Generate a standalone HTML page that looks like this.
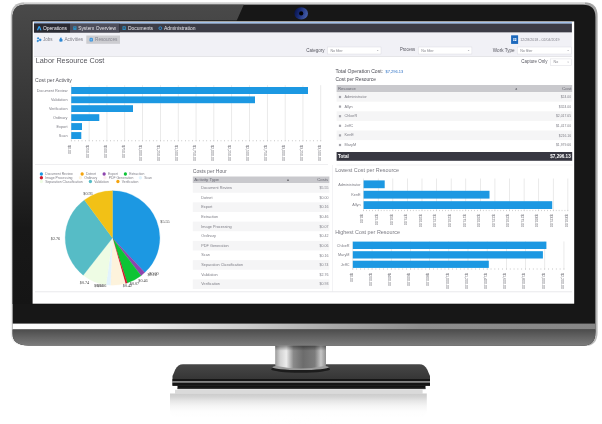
<!DOCTYPE html>
<html><head><meta charset="utf-8">
<style>
html,body{margin:0;padding:0;background:#fff;}
body{width:602px;height:424px;overflow:hidden;font-family:"Liberation Sans",sans-serif;}
svg{display:block;}
text{font-family:"Liberation Sans",sans-serif;}
.ser{font-family:"Liberation Serif",serif;}
</style></head><body>
<svg width="602" height="424" viewBox="0 0 602 424" style="will-change:transform">
<defs>
<linearGradient id="gSilverTop" x1="0" y1="1" x2="1" y2="0"><stop offset="0" stop-color="#f0f0f0"/><stop offset="0.3" stop-color="#d2d2d2"/><stop offset="0.5" stop-color="#bcbcbc"/><stop offset="1" stop-color="#a2a2a2"/></linearGradient>
<linearGradient id="gTopEdge" x1="0" y1="0" x2="0" y2="1"><stop offset="0" stop-color="#ececec"/><stop offset="0.5" stop-color="#cfcfcf"/><stop offset="1" stop-color="#9c9c9c"/></linearGradient>
<linearGradient id="gChin" x1="0" y1="0" x2="0" y2="1"><stop offset="0" stop-color="#4c4c4c"/><stop offset="1" stop-color="#7e7e7e"/></linearGradient>
<linearGradient id="gStrip" x1="0" y1="0" x2="1" y2="0"><stop offset="0" stop-color="#ffffff"/><stop offset="0.2" stop-color="#f2f2f2"/><stop offset="0.4" stop-color="#cccccc"/><stop offset="0.55" stop-color="#a8a8a8"/><stop offset="0.7" stop-color="#8e8e8e"/><stop offset="1" stop-color="#868686"/></linearGradient>
<linearGradient id="gLeftBezel" x1="0" y1="0" x2="0" y2="1"><stop offset="0" stop-color="#4a4a4a"/><stop offset="0.45" stop-color="#303030"/><stop offset="0.75" stop-color="#181818"/><stop offset="1" stop-color="#151515"/></linearGradient>
<linearGradient id="gNeck" x1="0" y1="0" x2="1" y2="0"><stop offset="0" stop-color="#9a9a9a"/><stop offset="0.1" stop-color="#d2d2d2"/><stop offset="0.22" stop-color="#ececec"/><stop offset="0.36" stop-color="#8a8a8a"/><stop offset="0.55" stop-color="#6c6c6c"/><stop offset="0.78" stop-color="#7c7c7c"/><stop offset="0.9" stop-color="#c6c6c6"/><stop offset="1" stop-color="#8e8e8e"/></linearGradient>
<linearGradient id="gBase" x1="0" y1="0" x2="0" y2="1"><stop offset="0" stop-color="#474747"/><stop offset="1" stop-color="#2e2e2e"/></linearGradient>
<linearGradient id="gNeckSh" x1="0" y1="0" x2="0" y2="1"><stop offset="0" stop-color="#000" stop-opacity="0.4"/><stop offset="1" stop-color="#000" stop-opacity="0"/></linearGradient>
<radialGradient id="gReflSpot" cx="0.5" cy="0.5" r="0.5"><stop offset="0" stop-color="#ffffff" stop-opacity="0.9"/><stop offset="1" stop-color="#ffffff" stop-opacity="0"/></radialGradient>
<linearGradient id="gCam" x1="0" y1="0" x2="1" y2="0.3"><stop offset="0" stop-color="#050e40"/><stop offset="0.45" stop-color="#172a74"/><stop offset="1" stop-color="#4159a4"/></linearGradient>
<linearGradient id="gRefl" x1="0" y1="0" x2="0" y2="1"><stop offset="0" stop-color="#cbcbcb"/><stop offset="0.14" stop-color="#d4d4d4"/><stop offset="0.3" stop-color="#e6e6e6"/><stop offset="0.5" stop-color="#f4f4f4"/><stop offset="0.72" stop-color="#fdfdfd"/><stop offset="1" stop-color="#ffffff"/></linearGradient>
<clipPath id="clipFrame"><path d="M25.5,4.7 H583 Q595.4,4.7 595.4,17 V332 Q595.4,345.4 584,345.4 H28.5 Q12.6,345.4 12.6,334 V17.5 Q12.6,4.7 25.5,4.7 Z"/></clipPath>
<filter id="fBlur" x="-2%" y="-2%" width="104%" height="104%"><feGaussianBlur stdDeviation="0.32"/></filter>
</defs>

<!-- ===== MONITOR FRAME ===== -->
<g id="frame">
<path d="M25,2.3 H584 Q597.6,2.3 597.6,16 V332 Q597.6,346 585,346 H28 Q10.8,346 10.8,334 V17 Q10.8,2.3 25,2.3 Z" fill="url(#gSilverTop)"/>
<rect x="24" y="2.3" width="561" height="2.6" fill="url(#gTopEdge)"/>
<g clip-path="url(#clipFrame)">
<rect x="10" y="2" width="590" height="345" fill="#171717"/>
<polygon points="10,2 245,2 236.5,21 32,21 32,304 10,304" fill="url(#gLeftBezel)"/>
<rect x="10" y="323.6" width="590" height="6" fill="url(#gStrip)"/>
<rect x="10" y="329.4" width="590" height="17" fill="url(#gChin)"/>
</g>
<ellipse cx="301.2" cy="13.4" rx="6.8" ry="6.1" fill="url(#gCam)"/>
<circle cx="301.2" cy="13.4" r="2.1" fill="#000"/>
</g>

<!-- ===== STAND ===== -->
<g id="stand">
<rect x="175" y="389.8" width="247.6" height="3.8" fill="#dadada"/>
<path d="M170,393.4 H426.8 V410 Q426.8,418 418,418 H178 Q170,418 170,410 Z" fill="url(#gRefl)"/>
<ellipse cx="300" cy="424" rx="40" ry="12" fill="url(#gReflSpot)"/>
<path d="M183,364.2 H419.5 Q424.5,364.2 427.2,369.5 L430,376 V385.7 H172.5 V376 L175.3,369.5 Q178,364.2 183,364.2 Z" fill="url(#gBase)"/>
<rect x="172.5" y="379" width="257.5" height="2.3" fill="#151515"/>
<rect x="172.5" y="381.2" width="257.5" height="1.6" fill="#9c9c9c"/>
<rect x="172.5" y="382.8" width="257.5" height="2.9" fill="#141414"/>
<rect x="177.5" y="385.5" width="248" height="3.6" fill="#121212"/>
<rect x="177.5" y="387.9" width="248" height="0.6" fill="#5a5a5a"/>
<ellipse cx="300.6" cy="369.2" rx="29.5" ry="3.6" fill="#1c1c1c"/>
<ellipse cx="300.6" cy="367.3" rx="28.2" ry="2.8" fill="#9c9c9c"/>
<path d="M275.2,345.8 H326 V365.8 Q300.6,371.2 275.2,365.8 Z" fill="url(#gNeck)"/>
<rect x="275.2" y="345.8" width="50.8" height="5" fill="url(#gNeckSh)"/>
</g>

<!-- ===== SCREEN ===== -->
<g id="screen">
<rect x="31.6" y="20.4" width="543.6" height="284.2" fill="#131313"/>
<rect x="32.6" y="21.4" width="541.6" height="282.3" fill="#ffffff"/>
<rect x="33.9" y="22.1" width="538" height="1.6" fill="#96b9e8"/>
<rect x="33.9" y="23.6" width="538" height="9" fill="#3c3c46"/>
<rect x="33.9" y="32.6" width="538" height="23.6" fill="#f1f1f6"/>
<rect x="33.9" y="56" width="538" height="0.6" fill="#d6d6da"/>
</g>

<!-- nav tabs -->
<g id="blurwrap" filter="url(#fBlur)">
<g id="nav">
<rect x="34" y="23.6" width="36" height="9" fill="#2a2a33"/>
<rect x="70" y="23.6" width="49" height="9" fill="#4e4e5a"/>
<rect x="119" y="23.6" width="0.6" height="9" fill="#2e2e37"/>
<!-- icons -->
<path d="M36.9,30.2 L38.3,26.4 Q39.2,25.6 40.1,26.4 L41.5,30.2 L40.1,30.2 L39.2,27.8 L38.3,30.2 Z" fill="#2f9fee"/>
<rect x="73.2" y="26.2" width="3.3" height="3.9" rx="0.6" fill="#2b8cc0"/>
<rect x="74" y="26.9" width="1.7" height="0.6" fill="#4e4e5a"/>
<rect x="122.5" y="26.2" width="3.3" height="3.9" rx="0.6" fill="#2b8cc0"/>
<rect x="123.3" y="27.4" width="1.7" height="1.2" fill="#3c3c46"/>
<circle cx="160.3" cy="28.2" r="1.4" fill="none" stroke="#2f9be8" stroke-width="0.8"/>
<text x="42.9" y="29.9" font-size="5.4" fill="#f0f0f4" textLength="24.2" lengthAdjust="spacingAndGlyphs">Operations</text>
<text x="78.2" y="29.9" font-size="5.4" fill="#e2e2e8" textLength="37.8" lengthAdjust="spacingAndGlyphs">System Overview</text>
<text x="128" y="29.9" font-size="5.4" fill="#e6e6ec" textLength="25" lengthAdjust="spacingAndGlyphs">Documents</text>
<text x="164" y="29.9" font-size="5.4" fill="#e6e6ec" textLength="31.6" lengthAdjust="spacingAndGlyphs">Administration</text>
</g>

<!-- toolbar -->
<g id="toolbar">
<rect x="86.3" y="35.5" width="33.7" height="8.3" fill="#cdcdd1"/>
<!-- sub icons -->
<g fill="#2a86d4" stroke="#2a86d4" stroke-width="0.7"><circle cx="38.1" cy="38.3" r="0.7"/><circle cx="40.4" cy="39.9" r="0.8"/><circle cx="37.7" cy="41" r="0.7"/><path d="M38.1,38.3 L40.4,39.9 L37.7,41" fill="none"/></g>
<path d="M59.2,40 L60.5,37.5 L61.8,37.7 L61.6,39 L62.6,39.2 L62.4,41.5 L59.7,41.7 Z" fill="#2a86d4"/>
<rect x="89.5" y="37.7" width="3.4" height="3.9" rx="1.2" fill="#3a94dc"/>
<rect x="90.5" y="38.8" width="1.4" height="1.6" rx="0.5" fill="#7fbdf0"/>
<text x="43" y="41.1" font-size="5.2" fill="#80808a" textLength="9.6" lengthAdjust="spacingAndGlyphs">Jobs</text>
<text x="64.4" y="41.1" font-size="5.2" fill="#80808a" textLength="18.8" lengthAdjust="spacingAndGlyphs">Activities</text>
<text x="95" y="41.1" font-size="5.2" fill="#868690" textLength="22.4" lengthAdjust="spacingAndGlyphs">Resources</text>

<!-- date -->
<rect x="511.1" y="35.3" width="7" height="8.6" fill="#1a68bc"/>
<rect x="513.2" y="38.2" width="3.2" height="2.8" fill="#e8f0fa"/>
<rect x="513.2" y="39.3" width="3.2" height="0.4" fill="#1f6fc6"/>
<rect x="514.6" y="38.2" width="0.4" height="2.8" fill="#1f6fc6"/>
<text x="520.2" y="40.8" font-size="3.6" fill="#80808a" textLength="39.4" lengthAdjust="spacingAndGlyphs">12/28/2018 - 02/04/2019</text>

<!-- filters -->
<text x="306.2" y="52.2" font-size="5.5" fill="#55555e" textLength="18.2" lengthAdjust="spacingAndGlyphs">Category</text>
<rect x="327.4" y="47" width="53.6" height="7" fill="#ffffff" stroke="#dcdce2" stroke-width="0.5"/>
<text x="330.4" y="51.6" font-size="3.6" fill="#84848c">No filter</text>
<path d="M376.8,50 l1.8,0 l-0.9,1.1 z" fill="#a8a8b0"/>

<text x="399.9" y="51.2" font-size="5.5" fill="#55555e" textLength="15.2" lengthAdjust="spacingAndGlyphs">Process</text>
<rect x="418.3" y="47" width="53.6" height="7" fill="#ffffff" stroke="#dcdce2" stroke-width="0.5"/>
<text x="421.3" y="51.6" font-size="3.6" fill="#84848c">No filter</text>
<path d="M467.7,50 l1.8,0 l-0.9,1.1 z" fill="#a8a8b0"/>

<text x="492.8" y="52.2" font-size="5.5" fill="#55555e" textLength="21.9" lengthAdjust="spacingAndGlyphs">Work Type</text>
<rect x="517.2" y="47" width="54.1" height="7" fill="#ffffff" stroke="#dcdce2" stroke-width="0.5"/>
<text x="520.2" y="51.6" font-size="3.6" fill="#84848c">No filter</text>
<path d="M567.2,50 l1.8,0 l-0.9,1.1 z" fill="#a8a8b0"/>

<text x="521.3" y="63.4" font-size="5.5" fill="#55555e" textLength="26.1" lengthAdjust="spacingAndGlyphs">Capture Only</text>
<rect x="550.4" y="58.9" width="20.9" height="6.5" fill="#ffffff" stroke="#dcdce2" stroke-width="0.5"/>
<text x="553.6" y="63.2" font-size="3.6" fill="#84848c">No</text>
<path d="M567.2,61.7 l1.8,0 l-0.9,1.1 z" fill="#a8a8b0"/>
</g>

<!-- title -->
<text x="35.8" y="63.3" font-size="7.8" fill="#55555c" textLength="68.6" lengthAdjust="spacingAndGlyphs">Labor Resource Cost</text>

<!--CONTENT_START-->
<g id="content">
<text x="35" y="82" font-size="5.3" fill="#55555c" textLength="36.8" lengthAdjust="spacingAndGlyphs">Cost per Activity</text>
<rect x="70.95" y="85.20" width="0.7" height="56.10" fill="#e1e1e1"/>
<rect x="88.77" y="85.20" width="0.7" height="56.10" fill="#e1e1e1"/>
<rect x="106.59" y="85.20" width="0.7" height="56.10" fill="#e1e1e1"/>
<rect x="124.41" y="85.20" width="0.7" height="56.10" fill="#e1e1e1"/>
<rect x="142.23" y="85.20" width="0.7" height="56.10" fill="#e1e1e1"/>
<rect x="160.05" y="85.20" width="0.7" height="56.10" fill="#e1e1e1"/>
<rect x="177.87" y="85.20" width="0.7" height="56.10" fill="#e1e1e1"/>
<rect x="195.69" y="85.20" width="0.7" height="56.10" fill="#e1e1e1"/>
<rect x="213.51" y="85.20" width="0.7" height="56.10" fill="#e1e1e1"/>
<rect x="231.33" y="85.20" width="0.7" height="56.10" fill="#e1e1e1"/>
<rect x="249.15" y="85.20" width="0.7" height="56.10" fill="#e1e1e1"/>
<rect x="266.97" y="85.20" width="0.7" height="56.10" fill="#e1e1e1"/>
<rect x="284.79" y="85.20" width="0.7" height="56.10" fill="#e1e1e1"/>
<rect x="302.61" y="85.20" width="0.7" height="56.10" fill="#e1e1e1"/>
<rect x="320.43" y="85.20" width="0.7" height="56.10" fill="#e1e1e1"/>
<rect x="70.95" y="140.10" width="0.7" height="1.2" fill="#bdbdbd"/>
<rect x="74.51" y="140.10" width="0.7" height="1.2" fill="#bdbdbd"/>
<rect x="78.08" y="140.10" width="0.7" height="1.2" fill="#bdbdbd"/>
<rect x="81.64" y="140.10" width="0.7" height="1.2" fill="#bdbdbd"/>
<rect x="85.21" y="140.10" width="0.7" height="1.2" fill="#bdbdbd"/>
<rect x="88.77" y="140.10" width="0.7" height="1.2" fill="#bdbdbd"/>
<rect x="92.33" y="140.10" width="0.7" height="1.2" fill="#bdbdbd"/>
<rect x="95.90" y="140.10" width="0.7" height="1.2" fill="#bdbdbd"/>
<rect x="99.46" y="140.10" width="0.7" height="1.2" fill="#bdbdbd"/>
<rect x="103.03" y="140.10" width="0.7" height="1.2" fill="#bdbdbd"/>
<rect x="106.59" y="140.10" width="0.7" height="1.2" fill="#bdbdbd"/>
<rect x="110.15" y="140.10" width="0.7" height="1.2" fill="#bdbdbd"/>
<rect x="113.72" y="140.10" width="0.7" height="1.2" fill="#bdbdbd"/>
<rect x="117.28" y="140.10" width="0.7" height="1.2" fill="#bdbdbd"/>
<rect x="120.85" y="140.10" width="0.7" height="1.2" fill="#bdbdbd"/>
<rect x="124.41" y="140.10" width="0.7" height="1.2" fill="#bdbdbd"/>
<rect x="127.97" y="140.10" width="0.7" height="1.2" fill="#bdbdbd"/>
<rect x="131.54" y="140.10" width="0.7" height="1.2" fill="#bdbdbd"/>
<rect x="135.10" y="140.10" width="0.7" height="1.2" fill="#bdbdbd"/>
<rect x="138.67" y="140.10" width="0.7" height="1.2" fill="#bdbdbd"/>
<rect x="142.23" y="140.10" width="0.7" height="1.2" fill="#bdbdbd"/>
<rect x="145.79" y="140.10" width="0.7" height="1.2" fill="#bdbdbd"/>
<rect x="149.36" y="140.10" width="0.7" height="1.2" fill="#bdbdbd"/>
<rect x="152.92" y="140.10" width="0.7" height="1.2" fill="#bdbdbd"/>
<rect x="156.49" y="140.10" width="0.7" height="1.2" fill="#bdbdbd"/>
<rect x="160.05" y="140.10" width="0.7" height="1.2" fill="#bdbdbd"/>
<rect x="163.61" y="140.10" width="0.7" height="1.2" fill="#bdbdbd"/>
<rect x="167.18" y="140.10" width="0.7" height="1.2" fill="#bdbdbd"/>
<rect x="170.74" y="140.10" width="0.7" height="1.2" fill="#bdbdbd"/>
<rect x="174.31" y="140.10" width="0.7" height="1.2" fill="#bdbdbd"/>
<rect x="177.87" y="140.10" width="0.7" height="1.2" fill="#bdbdbd"/>
<rect x="181.43" y="140.10" width="0.7" height="1.2" fill="#bdbdbd"/>
<rect x="185.00" y="140.10" width="0.7" height="1.2" fill="#bdbdbd"/>
<rect x="188.56" y="140.10" width="0.7" height="1.2" fill="#bdbdbd"/>
<rect x="192.13" y="140.10" width="0.7" height="1.2" fill="#bdbdbd"/>
<rect x="195.69" y="140.10" width="0.7" height="1.2" fill="#bdbdbd"/>
<rect x="199.25" y="140.10" width="0.7" height="1.2" fill="#bdbdbd"/>
<rect x="202.82" y="140.10" width="0.7" height="1.2" fill="#bdbdbd"/>
<rect x="206.38" y="140.10" width="0.7" height="1.2" fill="#bdbdbd"/>
<rect x="209.95" y="140.10" width="0.7" height="1.2" fill="#bdbdbd"/>
<rect x="213.51" y="140.10" width="0.7" height="1.2" fill="#bdbdbd"/>
<rect x="217.07" y="140.10" width="0.7" height="1.2" fill="#bdbdbd"/>
<rect x="220.64" y="140.10" width="0.7" height="1.2" fill="#bdbdbd"/>
<rect x="224.20" y="140.10" width="0.7" height="1.2" fill="#bdbdbd"/>
<rect x="227.77" y="140.10" width="0.7" height="1.2" fill="#bdbdbd"/>
<rect x="231.33" y="140.10" width="0.7" height="1.2" fill="#bdbdbd"/>
<rect x="234.89" y="140.10" width="0.7" height="1.2" fill="#bdbdbd"/>
<rect x="238.46" y="140.10" width="0.7" height="1.2" fill="#bdbdbd"/>
<rect x="242.02" y="140.10" width="0.7" height="1.2" fill="#bdbdbd"/>
<rect x="245.59" y="140.10" width="0.7" height="1.2" fill="#bdbdbd"/>
<rect x="249.15" y="140.10" width="0.7" height="1.2" fill="#bdbdbd"/>
<rect x="252.71" y="140.10" width="0.7" height="1.2" fill="#bdbdbd"/>
<rect x="256.28" y="140.10" width="0.7" height="1.2" fill="#bdbdbd"/>
<rect x="259.84" y="140.10" width="0.7" height="1.2" fill="#bdbdbd"/>
<rect x="263.41" y="140.10" width="0.7" height="1.2" fill="#bdbdbd"/>
<rect x="266.97" y="140.10" width="0.7" height="1.2" fill="#bdbdbd"/>
<rect x="270.53" y="140.10" width="0.7" height="1.2" fill="#bdbdbd"/>
<rect x="274.10" y="140.10" width="0.7" height="1.2" fill="#bdbdbd"/>
<rect x="277.66" y="140.10" width="0.7" height="1.2" fill="#bdbdbd"/>
<rect x="281.23" y="140.10" width="0.7" height="1.2" fill="#bdbdbd"/>
<rect x="284.79" y="140.10" width="0.7" height="1.2" fill="#bdbdbd"/>
<rect x="288.35" y="140.10" width="0.7" height="1.2" fill="#bdbdbd"/>
<rect x="291.92" y="140.10" width="0.7" height="1.2" fill="#bdbdbd"/>
<rect x="295.48" y="140.10" width="0.7" height="1.2" fill="#bdbdbd"/>
<rect x="299.05" y="140.10" width="0.7" height="1.2" fill="#bdbdbd"/>
<rect x="302.61" y="140.10" width="0.7" height="1.2" fill="#bdbdbd"/>
<rect x="306.17" y="140.10" width="0.7" height="1.2" fill="#bdbdbd"/>
<rect x="309.74" y="140.10" width="0.7" height="1.2" fill="#bdbdbd"/>
<rect x="313.30" y="140.10" width="0.7" height="1.2" fill="#bdbdbd"/>
<rect x="316.87" y="140.10" width="0.7" height="1.2" fill="#bdbdbd"/>
<rect x="320.43" y="140.10" width="0.7" height="1.2" fill="#bdbdbd"/>
<rect x="71.25" y="87.00" width="236.75" height="7.00" fill="#1b98e2"/>
<text x="67.50" y="91.87" font-size="3.8" fill="#7e7e86" text-anchor="end">Document Review</text>
<rect x="71.25" y="96.40" width="183.75" height="6.80" fill="#1b98e2"/>
<text x="67.50" y="101.17" font-size="3.8" fill="#7e7e86" text-anchor="end">Validation</text>
<rect x="71.25" y="105.20" width="61.75" height="6.80" fill="#1b98e2"/>
<text x="67.50" y="109.97" font-size="3.8" fill="#7e7e86" text-anchor="end">Verification</text>
<rect x="71.25" y="114.20" width="28.05" height="6.80" fill="#1b98e2"/>
<text x="67.50" y="118.97" font-size="3.8" fill="#7e7e86" text-anchor="end">Ordinary</text>
<rect x="71.25" y="123.10" width="10.75" height="6.90" fill="#1b98e2"/>
<text x="67.50" y="127.92" font-size="3.8" fill="#7e7e86" text-anchor="end">Export</text>
<rect x="71.25" y="132.10" width="10.05" height="6.90" fill="#1b98e2"/>
<text x="67.50" y="136.92" font-size="3.8" fill="#7e7e86" text-anchor="end">Scan</text>
<text transform="translate(68.05,144.90) rotate(90)" font-size="3.6" fill="#6c6c74">$0.00</text>
<text transform="translate(85.87,144.90) rotate(90)" font-size="3.6" fill="#6c6c74">$250.00</text>
<text transform="translate(103.69,144.90) rotate(90)" font-size="3.6" fill="#6c6c74">$500.00</text>
<text transform="translate(121.51,144.90) rotate(90)" font-size="3.6" fill="#6c6c74">$750.00</text>
<text transform="translate(139.33,144.90) rotate(90)" font-size="3.6" fill="#6c6c74">$1,000.00</text>
<text transform="translate(157.15,144.90) rotate(90)" font-size="3.6" fill="#6c6c74">$1,250.00</text>
<text transform="translate(174.97,144.90) rotate(90)" font-size="3.6" fill="#6c6c74">$1,500.00</text>
<text transform="translate(192.79,144.90) rotate(90)" font-size="3.6" fill="#6c6c74">$1,750.00</text>
<text transform="translate(210.61,144.90) rotate(90)" font-size="3.6" fill="#6c6c74">$2,000.00</text>
<text transform="translate(228.43,144.90) rotate(90)" font-size="3.6" fill="#6c6c74">$2,250.00</text>
<text transform="translate(246.25,144.90) rotate(90)" font-size="3.6" fill="#6c6c74">$2,500.00</text>
<text transform="translate(264.07,144.90) rotate(90)" font-size="3.6" fill="#6c6c74">$2,750.00</text>
<text transform="translate(281.89,144.90) rotate(90)" font-size="3.6" fill="#6c6c74">$3,000.00</text>
<text transform="translate(299.71,144.90) rotate(90)" font-size="3.6" fill="#6c6c74">$3,250.00</text>
<text transform="translate(317.53,144.90) rotate(90)" font-size="3.6" fill="#6c6c74">$3,500.00</text>
<rect x="35" y="164.2" width="293" height="0.6" fill="#e4e4e8"/>
<rect x="35" y="291.5" width="537" height="0.7" fill="#e0e0e4"/>
<rect x="332.1" y="165" width="0.6" height="127" fill="#ebebee"/>
<rect x="336.5" y="164.7" width="236" height="0.6" fill="#e9e9ec"/>
<text x="335.5" y="72.9" font-size="5.3" fill="#4c4c54" textLength="47.5" lengthAdjust="spacingAndGlyphs">Total Operation Cost:</text>
<text x="385.5" y="72.6" font-size="4" fill="#2a6fc4">$7,296.13</text>
<text x="335.5" y="81.4" font-size="5.3" fill="#4c4c54" textLength="40.5" lengthAdjust="spacingAndGlyphs">Cost per Resource</text>
<rect x="336.6" y="85" width="235.60000000000002" height="7.1" fill="#c9c9cd"/>
<text x="338" y="90.3" font-size="4.4" fill="#666670" textLength="17.9" lengthAdjust="spacingAndGlyphs">Resource</text>
<text x="562" y="90.3" font-size="4.4" fill="#666670" textLength="9.5" lengthAdjust="spacingAndGlyphs">Cost</text>
<path d="M515.2,89.6 l2,0 l-1,-1.6 z" fill="#44444c"/>
<rect x="336.6" y="92.10" width="235.60000000000002" height="9.6" fill="#f5f5f6"/>
<rect x="338.9" y="95.90" width="2.2" height="2.2" fill="#a6a6ac"/>
<text x="344.5" y="98.00" font-size="3.8" fill="#7e7e86">Administrator</text>
<text x="571.2" y="98.10" font-size="3.45" fill="#7e7e86" text-anchor="end">$24.00</text>
<rect x="338.9" y="105.50" width="2.2" height="2.2" fill="#a6a6ac"/>
<text x="344.5" y="107.60" font-size="3.8" fill="#7e7e86">Allyn</text>
<text x="571.2" y="107.70" font-size="3.45" fill="#7e7e86" text-anchor="end">$324.00</text>
<rect x="336.6" y="111.30" width="235.60000000000002" height="9.6" fill="#f5f5f6"/>
<rect x="338.9" y="115.10" width="2.2" height="2.2" fill="#a6a6ac"/>
<text x="344.5" y="117.20" font-size="3.8" fill="#7e7e86">ChloeR</text>
<text x="571.2" y="117.30" font-size="3.45" fill="#7e7e86" text-anchor="end">$2,017.65</text>
<rect x="338.9" y="124.70" width="2.2" height="2.2" fill="#a6a6ac"/>
<text x="344.5" y="126.80" font-size="3.8" fill="#7e7e86">JeffC</text>
<text x="571.2" y="126.90" font-size="3.45" fill="#7e7e86" text-anchor="end">$1,417.00</text>
<rect x="336.6" y="130.50" width="235.60000000000002" height="9.6" fill="#f5f5f6"/>
<rect x="338.9" y="134.30" width="2.2" height="2.2" fill="#a6a6ac"/>
<text x="344.5" y="136.40" font-size="3.8" fill="#7e7e86">KenE</text>
<text x="571.2" y="136.50" font-size="3.45" fill="#7e7e86" text-anchor="end">$216.16</text>
<rect x="338.9" y="143.90" width="2.2" height="2.2" fill="#a6a6ac"/>
<text x="344.5" y="146.00" font-size="3.8" fill="#7e7e86">MaryM</text>
<text x="571.2" y="146.10" font-size="3.45" fill="#7e7e86" text-anchor="end">$1,979.66</text>
<rect x="336.6" y="152" width="235.60000000000002" height="8.8" fill="#393943"/>
<text x="338.1" y="158" font-size="4.6" font-weight="bold" fill="#ffffff">Total</text>
<text x="570.7" y="158" font-size="4.6" font-weight="bold" fill="#ffffff" text-anchor="end">$7,296.13</text>
<path d="M112.5,238 L112.50,190.70 A47.3,47.3 0 0 1 144.76,272.59 Z" fill="#1b98e2" stroke="#1b98e2" stroke-width="0.25"/>
<path d="M112.5,238 L144.76,272.59 A47.3,47.3 0 0 1 141.10,275.68 Z" fill="#8e44ad" stroke="#8e44ad" stroke-width="0.25"/>
<path d="M112.5,238 L141.10,275.68 A47.3,47.3 0 0 1 127.27,282.93 Z" fill="#09c436" stroke="#09c436" stroke-width="0.25"/>
<path d="M112.5,238 L127.27,282.93 A47.3,47.3 0 0 1 125.38,283.51 Z" fill="#d0142c" stroke="#d0142c" stroke-width="0.25"/>
<path d="M112.5,238 L125.38,283.51 A47.3,47.3 0 0 1 110.52,285.26 Z" fill="#fdf3dc" stroke="#fdf3dc" stroke-width="0.25"/>
<path d="M112.5,238 L110.52,285.26 A47.3,47.3 0 0 1 106.08,284.86 Z" fill="#e2f3fd" stroke="#e2f3fd" stroke-width="0.25"/>
<path d="M112.5,238 L106.08,284.86 A47.3,47.3 0 0 1 83.25,275.17 Z" fill="#eefce4" stroke="#eefce4" stroke-width="0.25"/>
<path d="M112.5,238 L83.25,275.17 A47.3,47.3 0 0 1 84.43,199.93 Z" fill="#57bcc6" stroke="#57bcc6" stroke-width="0.25"/>
<path d="M112.5,238 L84.43,199.93 A47.3,47.3 0 0 1 112.50,190.70 Z" fill="#f2c114" stroke="#f2c114" stroke-width="0.25"/>
<text class="ser" x="88" y="194.9" font-size="4.2" fill="#444444" text-anchor="middle">$0.93</text>
<text class="ser" x="165" y="223.2" font-size="4.2" fill="#444444" text-anchor="middle">$5.55</text>
<text class="ser" x="55.5" y="239.9" font-size="4.2" fill="#444444" text-anchor="middle">$2.76</text>
<text class="ser" x="84.5" y="283.7" font-size="4.2" fill="#444444" text-anchor="middle">$0.74</text>
<text class="ser" x="98.6" y="287.2" font-size="4.2" fill="#444444" text-anchor="middle">$0.16</text>
<text class="ser" x="101.6" y="287.2" font-size="4.2" fill="#444444" text-anchor="middle">$0.06</text>
<text class="ser" x="127.5" y="287.2" font-size="4.2" fill="#444444" text-anchor="middle">$0.42</text>
<text class="ser" x="134.5" y="284.9" font-size="4.2" fill="#444444" text-anchor="middle">$0.07</text>
<text class="ser" x="143" y="282.2" font-size="4.2" fill="#444444" text-anchor="middle">$0.46</text>
<text class="ser" x="152.2" y="275.9" font-size="4.2" fill="#444444" text-anchor="middle">$0.16</text>
<text class="ser" x="154" y="275.3" font-size="4.2" fill="#444444" text-anchor="middle">$0.00</text>
<circle cx="41.4" cy="174.0" r="1.65" fill="#1b98e2"/>
<text x="45.2" y="175.20" font-size="3.42" fill="#7e7e86">Document Review</text>
<circle cx="82.15" cy="174.0" r="1.65" fill="#f5a30a"/>
<text x="85.95" y="175.20" font-size="3.42" fill="#7e7e86">Dotnet</text>
<circle cx="104.15" cy="174.0" r="1.65" fill="#8e44ad"/>
<text x="107.95" y="175.20" font-size="3.42" fill="#7e7e86">Export</text>
<circle cx="125.4" cy="174.0" r="1.65" fill="#09c436"/>
<text x="129.2" y="175.20" font-size="3.42" fill="#7e7e86">Extraction</text>
<circle cx="41.4" cy="177.75" r="1.65" fill="#d0142c"/>
<text x="45.2" y="178.95" font-size="3.42" fill="#7e7e86">Image Processing</text>
<circle cx="80.4" cy="177.75" r="1.65" fill="#fdf3dc"/>
<text x="84.2" y="178.95" font-size="3.42" fill="#7e7e86">Ordinary</text>
<circle cx="104.9" cy="177.75" r="1.65" fill="#fdeeee"/>
<text x="108.7" y="178.95" font-size="3.42" fill="#7e7e86">PDF Generation</text>
<circle cx="140.4" cy="177.75" r="1.65" fill="#e2f3fd"/>
<text x="144.2" y="178.95" font-size="3.42" fill="#7e7e86">Scan</text>
<circle cx="41.4" cy="181.5" r="1.65" fill="#eefce4"/>
<text x="45.2" y="182.70" font-size="3.42" fill="#7e7e86">Separation Classification</text>
<circle cx="90.4" cy="181.5" r="1.65" fill="#57bcc6"/>
<text x="94.2" y="182.70" font-size="3.42" fill="#7e7e86">Validation</text>
<circle cx="117.9" cy="181.5" r="1.65" fill="#f5a30a"/>
<text x="121.7" y="182.70" font-size="3.42" fill="#7e7e86">Verification</text>
<text x="192.8" y="172.6" font-size="5.3" fill="#6a6a72" textLength="34" lengthAdjust="spacingAndGlyphs">Costs per Hour</text>
<rect x="192.8" y="176.5" width="136.60" height="6.6" fill="#c9c9cd"/>
<text x="194.3" y="181.3" font-size="4.4" fill="#666670" textLength="24.8" lengthAdjust="spacingAndGlyphs">Activity Type</text>
<text x="328.2" y="181.3" font-size="4.3" fill="#666670" text-anchor="end">Costs</text>
<path d="M287,180.7 l2,0 l-1,-1.6 z" fill="#44444c"/>
<rect x="192.8" y="183.10" width="136.60" height="9.63" fill="#f5f5f6"/>
<text x="201.3" y="189.01" font-size="3.8" fill="#7e7e86">Document Review</text>
<text x="328.4" y="189.11" font-size="3.6" fill="#7e7e86" text-anchor="end">$5.55</text>
<text x="201.3" y="198.64" font-size="3.8" fill="#7e7e86">Dotnet</text>
<text x="328.4" y="198.74" font-size="3.6" fill="#7e7e86" text-anchor="end">$0.00</text>
<rect x="192.8" y="202.35" width="136.60" height="9.63" fill="#f5f5f6"/>
<text x="201.3" y="208.27" font-size="3.8" fill="#7e7e86">Export</text>
<text x="328.4" y="208.37" font-size="3.6" fill="#7e7e86" text-anchor="end">$0.16</text>
<text x="201.3" y="217.90" font-size="3.8" fill="#7e7e86">Extraction</text>
<text x="328.4" y="218.00" font-size="3.6" fill="#7e7e86" text-anchor="end">$0.46</text>
<rect x="192.8" y="221.61" width="136.60" height="9.63" fill="#f5f5f6"/>
<text x="201.3" y="227.52" font-size="3.8" fill="#7e7e86">Image Processing</text>
<text x="328.4" y="227.62" font-size="3.6" fill="#7e7e86" text-anchor="end">$0.07</text>
<text x="201.3" y="237.15" font-size="3.8" fill="#7e7e86">Ordinary</text>
<text x="328.4" y="237.25" font-size="3.6" fill="#7e7e86" text-anchor="end">$0.42</text>
<rect x="192.8" y="240.86" width="136.60" height="9.63" fill="#f5f5f6"/>
<text x="201.3" y="246.78" font-size="3.8" fill="#7e7e86">PDF Generation</text>
<text x="328.4" y="246.88" font-size="3.6" fill="#7e7e86" text-anchor="end">$0.06</text>
<text x="201.3" y="256.40" font-size="3.8" fill="#7e7e86">Scan</text>
<text x="328.4" y="256.50" font-size="3.6" fill="#7e7e86" text-anchor="end">$0.16</text>
<rect x="192.8" y="260.12" width="136.60" height="9.63" fill="#f5f5f6"/>
<text x="201.3" y="266.03" font-size="3.8" fill="#7e7e86">Separation Classification</text>
<text x="328.4" y="266.13" font-size="3.6" fill="#7e7e86" text-anchor="end">$0.74</text>
<text x="201.3" y="275.66" font-size="3.8" fill="#7e7e86">Validation</text>
<text x="328.4" y="275.76" font-size="3.6" fill="#7e7e86" text-anchor="end">$2.76</text>
<rect x="192.8" y="279.37" width="136.60" height="9.63" fill="#f5f5f6"/>
<text x="201.3" y="285.29" font-size="3.8" fill="#7e7e86">Verification</text>
<text x="328.4" y="285.39" font-size="3.6" fill="#7e7e86" text-anchor="end">$0.93</text>
<text x="335.2" y="172.3" font-size="6" fill="#7a7a82" textLength="63.8" lengthAdjust="spacingAndGlyphs">Lowest Cost per Resource</text>
<rect x="363.30" y="178.50" width="0.7" height="32.60" fill="#e1e1e1"/>
<rect x="377.89" y="178.50" width="0.7" height="32.60" fill="#e1e1e1"/>
<rect x="392.47" y="178.50" width="0.7" height="32.60" fill="#e1e1e1"/>
<rect x="407.06" y="178.50" width="0.7" height="32.60" fill="#e1e1e1"/>
<rect x="421.64" y="178.50" width="0.7" height="32.60" fill="#e1e1e1"/>
<rect x="436.23" y="178.50" width="0.7" height="32.60" fill="#e1e1e1"/>
<rect x="450.82" y="178.50" width="0.7" height="32.60" fill="#e1e1e1"/>
<rect x="465.40" y="178.50" width="0.7" height="32.60" fill="#e1e1e1"/>
<rect x="479.99" y="178.50" width="0.7" height="32.60" fill="#e1e1e1"/>
<rect x="494.57" y="178.50" width="0.7" height="32.60" fill="#e1e1e1"/>
<rect x="509.16" y="178.50" width="0.7" height="32.60" fill="#e1e1e1"/>
<rect x="523.75" y="178.50" width="0.7" height="32.60" fill="#e1e1e1"/>
<rect x="538.33" y="178.50" width="0.7" height="32.60" fill="#e1e1e1"/>
<rect x="552.92" y="178.50" width="0.7" height="32.60" fill="#e1e1e1"/>
<rect x="567.50" y="178.50" width="0.7" height="32.60" fill="#e1e1e1"/>
<rect x="363.30" y="209.90" width="0.7" height="1.2" fill="#bdbdbd"/>
<rect x="366.22" y="209.90" width="0.7" height="1.2" fill="#bdbdbd"/>
<rect x="369.13" y="209.90" width="0.7" height="1.2" fill="#bdbdbd"/>
<rect x="372.05" y="209.90" width="0.7" height="1.2" fill="#bdbdbd"/>
<rect x="374.97" y="209.90" width="0.7" height="1.2" fill="#bdbdbd"/>
<rect x="377.89" y="209.90" width="0.7" height="1.2" fill="#bdbdbd"/>
<rect x="380.80" y="209.90" width="0.7" height="1.2" fill="#bdbdbd"/>
<rect x="383.72" y="209.90" width="0.7" height="1.2" fill="#bdbdbd"/>
<rect x="386.64" y="209.90" width="0.7" height="1.2" fill="#bdbdbd"/>
<rect x="389.55" y="209.90" width="0.7" height="1.2" fill="#bdbdbd"/>
<rect x="392.47" y="209.90" width="0.7" height="1.2" fill="#bdbdbd"/>
<rect x="395.39" y="209.90" width="0.7" height="1.2" fill="#bdbdbd"/>
<rect x="398.31" y="209.90" width="0.7" height="1.2" fill="#bdbdbd"/>
<rect x="401.22" y="209.90" width="0.7" height="1.2" fill="#bdbdbd"/>
<rect x="404.14" y="209.90" width="0.7" height="1.2" fill="#bdbdbd"/>
<rect x="407.06" y="209.90" width="0.7" height="1.2" fill="#bdbdbd"/>
<rect x="409.98" y="209.90" width="0.7" height="1.2" fill="#bdbdbd"/>
<rect x="412.89" y="209.90" width="0.7" height="1.2" fill="#bdbdbd"/>
<rect x="415.81" y="209.90" width="0.7" height="1.2" fill="#bdbdbd"/>
<rect x="418.73" y="209.90" width="0.7" height="1.2" fill="#bdbdbd"/>
<rect x="421.64" y="209.90" width="0.7" height="1.2" fill="#bdbdbd"/>
<rect x="424.56" y="209.90" width="0.7" height="1.2" fill="#bdbdbd"/>
<rect x="427.48" y="209.90" width="0.7" height="1.2" fill="#bdbdbd"/>
<rect x="430.40" y="209.90" width="0.7" height="1.2" fill="#bdbdbd"/>
<rect x="433.31" y="209.90" width="0.7" height="1.2" fill="#bdbdbd"/>
<rect x="436.23" y="209.90" width="0.7" height="1.2" fill="#bdbdbd"/>
<rect x="439.15" y="209.90" width="0.7" height="1.2" fill="#bdbdbd"/>
<rect x="442.06" y="209.90" width="0.7" height="1.2" fill="#bdbdbd"/>
<rect x="444.98" y="209.90" width="0.7" height="1.2" fill="#bdbdbd"/>
<rect x="447.90" y="209.90" width="0.7" height="1.2" fill="#bdbdbd"/>
<rect x="450.82" y="209.90" width="0.7" height="1.2" fill="#bdbdbd"/>
<rect x="453.73" y="209.90" width="0.7" height="1.2" fill="#bdbdbd"/>
<rect x="456.65" y="209.90" width="0.7" height="1.2" fill="#bdbdbd"/>
<rect x="459.57" y="209.90" width="0.7" height="1.2" fill="#bdbdbd"/>
<rect x="462.48" y="209.90" width="0.7" height="1.2" fill="#bdbdbd"/>
<rect x="465.40" y="209.90" width="0.7" height="1.2" fill="#bdbdbd"/>
<rect x="468.32" y="209.90" width="0.7" height="1.2" fill="#bdbdbd"/>
<rect x="471.24" y="209.90" width="0.7" height="1.2" fill="#bdbdbd"/>
<rect x="474.15" y="209.90" width="0.7" height="1.2" fill="#bdbdbd"/>
<rect x="477.07" y="209.90" width="0.7" height="1.2" fill="#bdbdbd"/>
<rect x="479.99" y="209.90" width="0.7" height="1.2" fill="#bdbdbd"/>
<rect x="482.91" y="209.90" width="0.7" height="1.2" fill="#bdbdbd"/>
<rect x="485.82" y="209.90" width="0.7" height="1.2" fill="#bdbdbd"/>
<rect x="488.74" y="209.90" width="0.7" height="1.2" fill="#bdbdbd"/>
<rect x="491.66" y="209.90" width="0.7" height="1.2" fill="#bdbdbd"/>
<rect x="494.57" y="209.90" width="0.7" height="1.2" fill="#bdbdbd"/>
<rect x="497.49" y="209.90" width="0.7" height="1.2" fill="#bdbdbd"/>
<rect x="500.41" y="209.90" width="0.7" height="1.2" fill="#bdbdbd"/>
<rect x="503.33" y="209.90" width="0.7" height="1.2" fill="#bdbdbd"/>
<rect x="506.24" y="209.90" width="0.7" height="1.2" fill="#bdbdbd"/>
<rect x="509.16" y="209.90" width="0.7" height="1.2" fill="#bdbdbd"/>
<rect x="512.08" y="209.90" width="0.7" height="1.2" fill="#bdbdbd"/>
<rect x="514.99" y="209.90" width="0.7" height="1.2" fill="#bdbdbd"/>
<rect x="517.91" y="209.90" width="0.7" height="1.2" fill="#bdbdbd"/>
<rect x="520.83" y="209.90" width="0.7" height="1.2" fill="#bdbdbd"/>
<rect x="523.75" y="209.90" width="0.7" height="1.2" fill="#bdbdbd"/>
<rect x="526.66" y="209.90" width="0.7" height="1.2" fill="#bdbdbd"/>
<rect x="529.58" y="209.90" width="0.7" height="1.2" fill="#bdbdbd"/>
<rect x="532.50" y="209.90" width="0.7" height="1.2" fill="#bdbdbd"/>
<rect x="535.41" y="209.90" width="0.7" height="1.2" fill="#bdbdbd"/>
<rect x="538.33" y="209.90" width="0.7" height="1.2" fill="#bdbdbd"/>
<rect x="541.25" y="209.90" width="0.7" height="1.2" fill="#bdbdbd"/>
<rect x="544.17" y="209.90" width="0.7" height="1.2" fill="#bdbdbd"/>
<rect x="547.08" y="209.90" width="0.7" height="1.2" fill="#bdbdbd"/>
<rect x="550.00" y="209.90" width="0.7" height="1.2" fill="#bdbdbd"/>
<rect x="552.92" y="209.90" width="0.7" height="1.2" fill="#bdbdbd"/>
<rect x="555.84" y="209.90" width="0.7" height="1.2" fill="#bdbdbd"/>
<rect x="558.75" y="209.90" width="0.7" height="1.2" fill="#bdbdbd"/>
<rect x="561.67" y="209.90" width="0.7" height="1.2" fill="#bdbdbd"/>
<rect x="564.59" y="209.90" width="0.7" height="1.2" fill="#bdbdbd"/>
<rect x="567.50" y="209.90" width="0.7" height="1.2" fill="#bdbdbd"/>
<rect x="363.60" y="180.40" width="21.10" height="7.80" fill="#1b98e2"/>
<text x="360.60" y="185.67" font-size="3.8" fill="#7e7e86" text-anchor="end">Administrator</text>
<rect x="363.60" y="190.80" width="125.90" height="7.80" fill="#1b98e2"/>
<text x="360.60" y="196.07" font-size="3.8" fill="#7e7e86" text-anchor="end">KenE</text>
<rect x="363.60" y="201.20" width="188.60" height="7.80" fill="#1b98e2"/>
<text x="360.60" y="206.47" font-size="3.8" fill="#7e7e86" text-anchor="end">Allyn</text>
<text transform="translate(360.40,214.30) rotate(90)" font-size="3.6" fill="#6c6c74">$0.00</text>
<text transform="translate(374.99,214.30) rotate(90)" font-size="3.6" fill="#6c6c74">$25.00</text>
<text transform="translate(389.57,214.30) rotate(90)" font-size="3.6" fill="#6c6c74">$50.00</text>
<text transform="translate(404.16,214.30) rotate(90)" font-size="3.6" fill="#6c6c74">$75.00</text>
<text transform="translate(418.74,214.30) rotate(90)" font-size="3.6" fill="#6c6c74">$100.00</text>
<text transform="translate(433.33,214.30) rotate(90)" font-size="3.6" fill="#6c6c74">$125.00</text>
<text transform="translate(447.92,214.30) rotate(90)" font-size="3.6" fill="#6c6c74">$150.00</text>
<text transform="translate(462.50,214.30) rotate(90)" font-size="3.6" fill="#6c6c74">$175.00</text>
<text transform="translate(477.09,214.30) rotate(90)" font-size="3.6" fill="#6c6c74">$200.00</text>
<text transform="translate(491.67,214.30) rotate(90)" font-size="3.6" fill="#6c6c74">$225.00</text>
<text transform="translate(506.26,214.30) rotate(90)" font-size="3.6" fill="#6c6c74">$250.00</text>
<text transform="translate(520.85,214.30) rotate(90)" font-size="3.6" fill="#6c6c74">$275.00</text>
<text transform="translate(535.43,214.30) rotate(90)" font-size="3.6" fill="#6c6c74">$300.00</text>
<text transform="translate(550.02,214.30) rotate(90)" font-size="3.6" fill="#6c6c74">$325.00</text>
<text transform="translate(564.60,214.30) rotate(90)" font-size="3.6" fill="#6c6c74">$350.00</text>
<text x="335.2" y="234" font-size="6" fill="#7a7a82" textLength="64.8" lengthAdjust="spacingAndGlyphs">Highest Cost per Resource</text>
<rect x="352.50" y="241.40" width="0.7" height="28.20" fill="#e1e1e1"/>
<rect x="371.69" y="241.40" width="0.7" height="28.20" fill="#e1e1e1"/>
<rect x="390.88" y="241.40" width="0.7" height="28.20" fill="#e1e1e1"/>
<rect x="410.07" y="241.40" width="0.7" height="28.20" fill="#e1e1e1"/>
<rect x="429.26" y="241.40" width="0.7" height="28.20" fill="#e1e1e1"/>
<rect x="448.45" y="241.40" width="0.7" height="28.20" fill="#e1e1e1"/>
<rect x="467.64" y="241.40" width="0.7" height="28.20" fill="#e1e1e1"/>
<rect x="486.83" y="241.40" width="0.7" height="28.20" fill="#e1e1e1"/>
<rect x="506.02" y="241.40" width="0.7" height="28.20" fill="#e1e1e1"/>
<rect x="525.21" y="241.40" width="0.7" height="28.20" fill="#e1e1e1"/>
<rect x="544.40" y="241.40" width="0.7" height="28.20" fill="#e1e1e1"/>
<rect x="563.59" y="241.40" width="0.7" height="28.20" fill="#e1e1e1"/>
<rect x="352.50" y="268.40" width="0.7" height="1.2" fill="#bdbdbd"/>
<rect x="356.34" y="268.40" width="0.7" height="1.2" fill="#bdbdbd"/>
<rect x="360.18" y="268.40" width="0.7" height="1.2" fill="#bdbdbd"/>
<rect x="364.01" y="268.40" width="0.7" height="1.2" fill="#bdbdbd"/>
<rect x="367.85" y="268.40" width="0.7" height="1.2" fill="#bdbdbd"/>
<rect x="371.69" y="268.40" width="0.7" height="1.2" fill="#bdbdbd"/>
<rect x="375.53" y="268.40" width="0.7" height="1.2" fill="#bdbdbd"/>
<rect x="379.37" y="268.40" width="0.7" height="1.2" fill="#bdbdbd"/>
<rect x="383.20" y="268.40" width="0.7" height="1.2" fill="#bdbdbd"/>
<rect x="387.04" y="268.40" width="0.7" height="1.2" fill="#bdbdbd"/>
<rect x="390.88" y="268.40" width="0.7" height="1.2" fill="#bdbdbd"/>
<rect x="394.72" y="268.40" width="0.7" height="1.2" fill="#bdbdbd"/>
<rect x="398.56" y="268.40" width="0.7" height="1.2" fill="#bdbdbd"/>
<rect x="402.39" y="268.40" width="0.7" height="1.2" fill="#bdbdbd"/>
<rect x="406.23" y="268.40" width="0.7" height="1.2" fill="#bdbdbd"/>
<rect x="410.07" y="268.40" width="0.7" height="1.2" fill="#bdbdbd"/>
<rect x="413.91" y="268.40" width="0.7" height="1.2" fill="#bdbdbd"/>
<rect x="417.75" y="268.40" width="0.7" height="1.2" fill="#bdbdbd"/>
<rect x="421.58" y="268.40" width="0.7" height="1.2" fill="#bdbdbd"/>
<rect x="425.42" y="268.40" width="0.7" height="1.2" fill="#bdbdbd"/>
<rect x="429.26" y="268.40" width="0.7" height="1.2" fill="#bdbdbd"/>
<rect x="433.10" y="268.40" width="0.7" height="1.2" fill="#bdbdbd"/>
<rect x="436.94" y="268.40" width="0.7" height="1.2" fill="#bdbdbd"/>
<rect x="440.77" y="268.40" width="0.7" height="1.2" fill="#bdbdbd"/>
<rect x="444.61" y="268.40" width="0.7" height="1.2" fill="#bdbdbd"/>
<rect x="448.45" y="268.40" width="0.7" height="1.2" fill="#bdbdbd"/>
<rect x="452.29" y="268.40" width="0.7" height="1.2" fill="#bdbdbd"/>
<rect x="456.13" y="268.40" width="0.7" height="1.2" fill="#bdbdbd"/>
<rect x="459.96" y="268.40" width="0.7" height="1.2" fill="#bdbdbd"/>
<rect x="463.80" y="268.40" width="0.7" height="1.2" fill="#bdbdbd"/>
<rect x="467.64" y="268.40" width="0.7" height="1.2" fill="#bdbdbd"/>
<rect x="471.48" y="268.40" width="0.7" height="1.2" fill="#bdbdbd"/>
<rect x="475.32" y="268.40" width="0.7" height="1.2" fill="#bdbdbd"/>
<rect x="479.15" y="268.40" width="0.7" height="1.2" fill="#bdbdbd"/>
<rect x="482.99" y="268.40" width="0.7" height="1.2" fill="#bdbdbd"/>
<rect x="486.83" y="268.40" width="0.7" height="1.2" fill="#bdbdbd"/>
<rect x="490.67" y="268.40" width="0.7" height="1.2" fill="#bdbdbd"/>
<rect x="494.51" y="268.40" width="0.7" height="1.2" fill="#bdbdbd"/>
<rect x="498.34" y="268.40" width="0.7" height="1.2" fill="#bdbdbd"/>
<rect x="502.18" y="268.40" width="0.7" height="1.2" fill="#bdbdbd"/>
<rect x="506.02" y="268.40" width="0.7" height="1.2" fill="#bdbdbd"/>
<rect x="509.86" y="268.40" width="0.7" height="1.2" fill="#bdbdbd"/>
<rect x="513.70" y="268.40" width="0.7" height="1.2" fill="#bdbdbd"/>
<rect x="517.53" y="268.40" width="0.7" height="1.2" fill="#bdbdbd"/>
<rect x="521.37" y="268.40" width="0.7" height="1.2" fill="#bdbdbd"/>
<rect x="525.21" y="268.40" width="0.7" height="1.2" fill="#bdbdbd"/>
<rect x="529.05" y="268.40" width="0.7" height="1.2" fill="#bdbdbd"/>
<rect x="532.89" y="268.40" width="0.7" height="1.2" fill="#bdbdbd"/>
<rect x="536.72" y="268.40" width="0.7" height="1.2" fill="#bdbdbd"/>
<rect x="540.56" y="268.40" width="0.7" height="1.2" fill="#bdbdbd"/>
<rect x="544.40" y="268.40" width="0.7" height="1.2" fill="#bdbdbd"/>
<rect x="548.24" y="268.40" width="0.7" height="1.2" fill="#bdbdbd"/>
<rect x="552.08" y="268.40" width="0.7" height="1.2" fill="#bdbdbd"/>
<rect x="555.91" y="268.40" width="0.7" height="1.2" fill="#bdbdbd"/>
<rect x="559.75" y="268.40" width="0.7" height="1.2" fill="#bdbdbd"/>
<rect x="563.59" y="268.40" width="0.7" height="1.2" fill="#bdbdbd"/>
<rect x="352.80" y="241.60" width="193.60" height="7.40" fill="#1b98e2"/>
<text x="349.50" y="246.67" font-size="3.8" fill="#7e7e86" text-anchor="end">ChloeR</text>
<rect x="352.80" y="251.20" width="190.10" height="7.30" fill="#1b98e2"/>
<text x="349.50" y="256.22" font-size="3.8" fill="#7e7e86" text-anchor="end">MaryM</text>
<rect x="352.80" y="260.70" width="136.00" height="7.20" fill="#1b98e2"/>
<text x="349.50" y="265.67" font-size="3.8" fill="#7e7e86" text-anchor="end">JeffC</text>
<text transform="translate(349.60,273.00) rotate(90)" font-size="3.6" fill="#6c6c74">$0.00</text>
<text transform="translate(368.79,273.00) rotate(90)" font-size="3.6" fill="#6c6c74">$200.00</text>
<text transform="translate(387.98,273.00) rotate(90)" font-size="3.6" fill="#6c6c74">$400.00</text>
<text transform="translate(407.17,273.00) rotate(90)" font-size="3.6" fill="#6c6c74">$600.00</text>
<text transform="translate(426.36,273.00) rotate(90)" font-size="3.6" fill="#6c6c74">$800.00</text>
<text transform="translate(445.55,273.00) rotate(90)" font-size="3.6" fill="#6c6c74">$1,000.00</text>
<text transform="translate(464.74,273.00) rotate(90)" font-size="3.6" fill="#6c6c74">$1,200.00</text>
<text transform="translate(483.93,273.00) rotate(90)" font-size="3.6" fill="#6c6c74">$1,400.00</text>
<text transform="translate(503.12,273.00) rotate(90)" font-size="3.6" fill="#6c6c74">$1,600.00</text>
<text transform="translate(522.31,273.00) rotate(90)" font-size="3.6" fill="#6c6c74">$1,800.00</text>
<text transform="translate(541.50,273.00) rotate(90)" font-size="3.6" fill="#6c6c74">$2,000.00</text>
<text transform="translate(560.69,273.00) rotate(90)" font-size="3.6" fill="#6c6c74">$2,200.00</text>
</g>
<!--CONTENT_END-->
</g>
</svg>
</body></html>
